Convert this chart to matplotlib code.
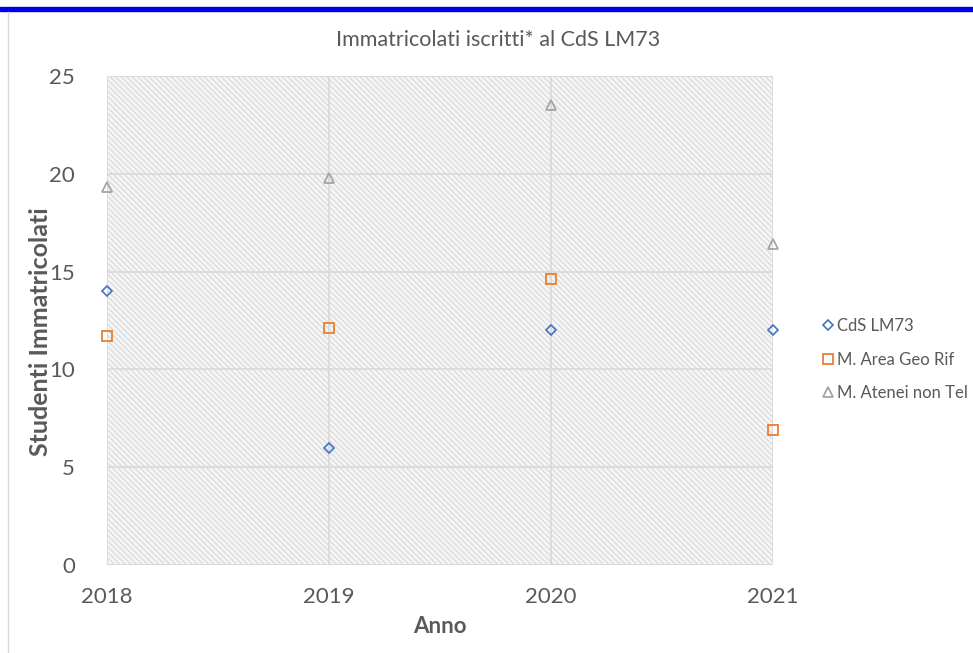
import matplotlib
matplotlib.use("Agg")
import matplotlib.pyplot as plt
from matplotlib.patches import Rectangle
from matplotlib.lines import Line2D

plt.rcParams['font.family'] = ['Lato', 'DejaVu Sans']
plt.rcParams['hatch.color'] = '#d4d4d4'
plt.rcParams['hatch.linewidth'] = 0.7

# data
anni = [2018, 2019, 2020, 2021]
cds_lm73 = [14, 6, 12, 12]
area_geo = [11.7, 12.1, 14.6, 6.9]
atenei_non_tel = [19.3, 19.8, 23.5, 16.4]

fig = plt.figure(figsize=(9.73, 6.53), dpi=100)

# top blue bar and left frame line
fig.patches.append(Rectangle((0, 1 - 11/653), 1, 4/653, transform=fig.transFigure,
                             color='#0000e6', zorder=0))
fig.lines.append(Line2D([8/973, 8/973], [0, 1 - 12/653], transform=fig.transFigure,
                        color='#d9d9d9', lw=1))

ax = fig.add_axes([107/973, 88/653, 666/973, 489/653])
ax.set_xlim(2018, 2021)
ax.set_ylim(0, 25)

# hatched plot area
ax.add_patch(Rectangle((0, 0), 1, 1, transform=ax.transAxes, facecolor='#f5f5f5',
                       hatch='\\\\\\\\\\\\', edgecolor='#d4d4d4', lw=0, zorder=0))

ax.set_yticks([0, 5, 10, 15, 20, 25])
ax.set_xticks(anni)
ax.grid(True, color='#d9d9d9', lw=1.2, zorder=1)
for s in ax.spines.values():
    s.set_visible(False)
ax.axhline(0, color='#d9d9d9', lw=1.2, zorder=1)
ax.tick_params(length=0, labelsize=16, colors='#595959')
ax.tick_params(axis='x', pad=16)
ax.tick_params(axis='y', pad=23)

ax.plot(anni, cds_lm73, 'D', ms=5.5, mfc='none', mec='#4472c4', mew=1.2,
        label='CdS LM73', clip_on=False, zorder=3)
ax.plot(anni, area_geo, 's', ms=7, mfc='none', mec='#ed7d31', mew=1.3,
        label='M. Area Geo Rif', clip_on=False, zorder=3)
ax.plot(anni, atenei_non_tel, '^', ms=7, mfc='none', mec='#a5a5a5', mew=1.3,
        label='M. Atenei non Tel', clip_on=False, zorder=3)

fig.text(498/973, 1 - 40/653, 'Immatricolati iscritti* al CdS LM73', fontsize=15.5,
         color='#595959', ha='center', va='center')
ax.set_xlabel('Anno', fontsize=16, fontweight='bold', color='#595959', labelpad=6)
ax.set_ylabel('Studenti Immatricolati', fontsize=18, fontweight='bold', color='#595959')
ax.yaxis.set_label_coords(-0.083, 0.478)

ax.legend(loc='center left', bbox_to_anchor=(1.065, 0.42), frameon=False, fontsize=12,
          labelcolor='#595959', handlelength=0.6, handletextpad=0.25, labelspacing=1.05,
          borderaxespad=0)

fig.savefig('out.png', dpi=100)
